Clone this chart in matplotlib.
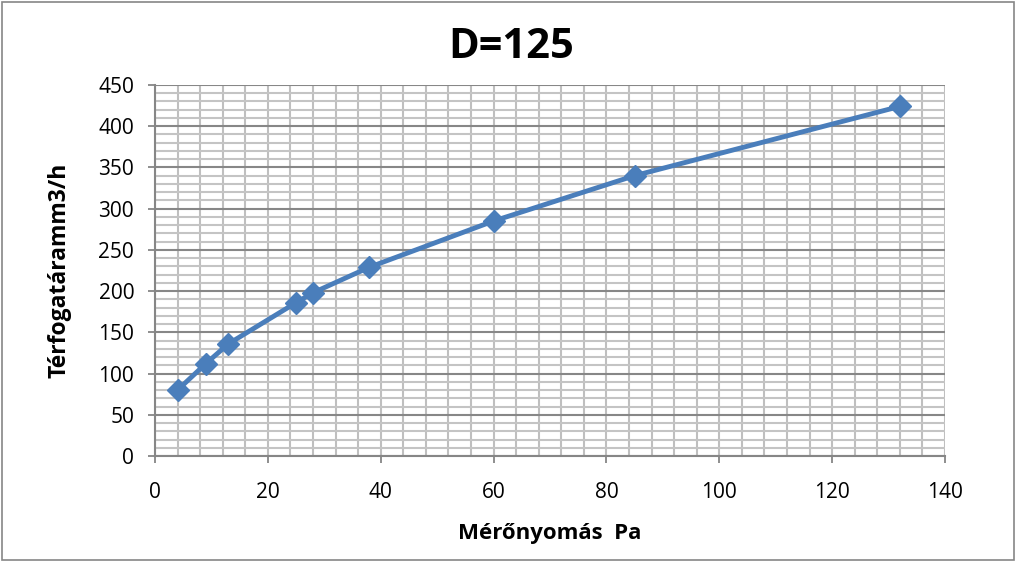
import matplotlib.pyplot as plt
from matplotlib.patches import Rectangle
from matplotlib.ticker import MultipleLocator

# mért adatok
nyomas = [4, 9, 13, 25, 28, 38, 60, 85, 132]          # Pa
terfogataram = [80, 112, 136, 186, 198, 229, 285, 340, 424]  # m3/h

plt.rcParams['font.family'] = ['Open Sans', 'DejaVu Sans']

fig = plt.figure(figsize=(10.17, 5.62), dpi=100)
ax = fig.add_axes([0.1524, 0.1886, 0.7768, 0.6602])

ax.plot(nyomas, terfogataram, color='#4A7EBB', linewidth=3.5,
        marker='D', markersize=11, markerfacecolor='#4A7EBB',
        markeredgecolor='#4A7EBB', zorder=3)

ax.set_xlim(0, 140)
ax.set_ylim(0, 450)
ax.xaxis.set_major_locator(MultipleLocator(20))
ax.xaxis.set_minor_locator(MultipleLocator(4))
ax.yaxis.set_major_locator(MultipleLocator(50))
ax.yaxis.set_minor_locator(MultipleLocator(10))

# rács: függőleges vonalak egyformák, vízszintes főrács sötétebb
ax.xaxis.grid(True, which='both', color='#BFBFBF', linewidth=1.5)
ax.yaxis.grid(True, which='minor', color='#C4C4C4', linewidth=1.5)
ax.yaxis.grid(True, which='major', color='#878787', linewidth=1.5)
ax.set_axisbelow(True)

for s in ['top', 'right']:
    ax.spines[s].set_visible(False)
for s in ['left', 'bottom']:
    ax.spines[s].set_color('#868686')
    ax.spines[s].set_linewidth(1.5)

ax.tick_params(which='major', direction='out', length=5, width=1.3,
               color='#868686', labelsize=15)
ax.tick_params(axis='y', pad=10)
ax.tick_params(axis='x', pad=14)
ax.tick_params(which='minor', length=0)

# a cím a diagram közepén van, nem a rajzterület közepén
fig.text(0.503, 0.915, 'D=125', fontsize=30, fontweight='bold',
         ha='center', va='center')
ax.set_xlabel('Mérőnyomás  Pa', fontsize=16, fontweight='bold', labelpad=14)
ax.set_ylabel('Térfogatáramm3/h', fontsize=16.5, fontweight='bold', labelpad=19)

fig.patches.append(Rectangle((0.002, 0.003), 0.995, 0.993, transform=fig.transFigure,
                             fill=False, edgecolor='#868686', linewidth=1.2))

fig.savefig('out.png', dpi=100)
